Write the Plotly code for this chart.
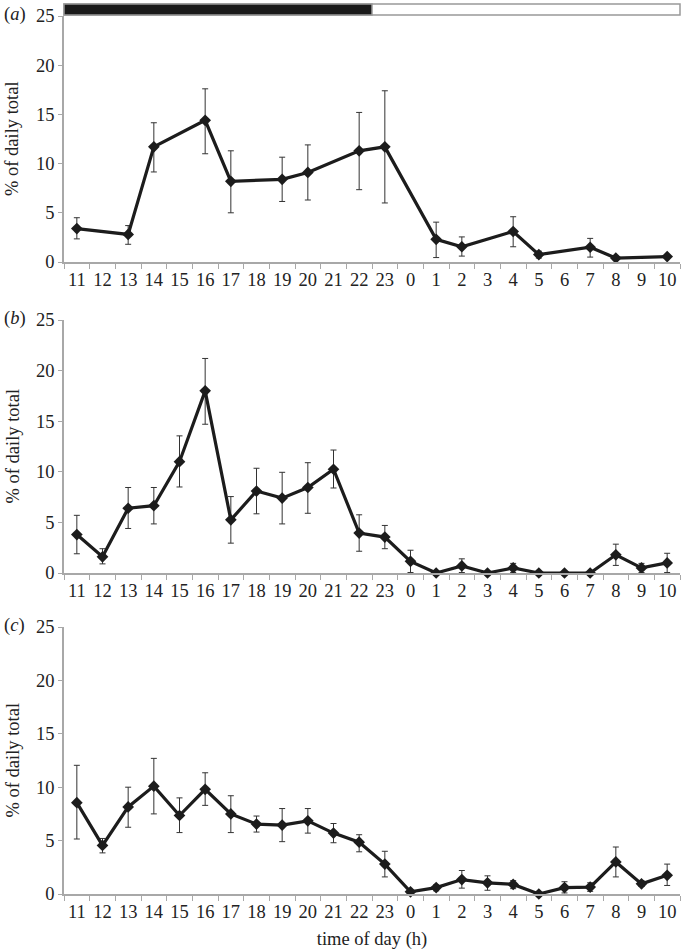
import plotly.graph_objects as go

hours = ["11", "12", "13", "14", "15", "16", "17", "18", "19", "20", "21", "22", "23",
         "0", "1", "2", "3", "4", "5", "6", "7", "8", "9", "10"]
dark_hours = ["11", "12", "13", "14", "15", "16", "17", "18", "19", "20", "21", "22"]

# panel (a) - None = no observation
a_val = [3.4, None, 2.8, 11.7, None, 14.4, 8.2, None, 8.4, 9.1, None, 11.3, 11.7,
         None, 2.3, 1.55, None, 3.1, 0.75, None, 1.5, 0.4, None, 0.55]
a_hi = [4.5, None, 3.7, 14.15, None, 17.6, 11.3, None, 10.65, 11.9, None, 15.2, 17.4,
        None, 4.05, 2.55, None, 4.6, 1.1, None, 2.4, 0.4, None, 0.7]
a_lo = [2.35, None, 1.8, 9.15, None, 11.0, 5.0, None, 6.15, 6.3, None, 7.35, 6.0,
        None, 0.45, 0.6, None, 1.55, 0.4, None, 0.5, 0.4, None, 0.4]

# panel (b)
b_val = [3.8, 1.6, 6.4, 6.65, 11.0, 18.0, 5.25, 8.1, 7.4, 8.45, 10.25, 3.95, 3.55,
         1.15, 0.0, 0.7, 0.0, 0.5, 0.0, 0.0, 0.0, 1.8, 0.5, 1.0]
b_hi = [5.7, 2.4, 8.45, 8.45, 13.55, 21.2, 7.55, 10.35, 9.95, 10.9, 12.15, 5.75, 4.7,
        2.25, 0.0, 1.4, 0.0, 0.95, 0.0, 0.0, 0.0, 2.85, 0.95, 1.95]
b_lo = [1.9, 0.9, 4.4, 4.85, 8.5, 14.7, 2.95, 5.85, 4.85, 5.9, 8.4, 2.15, 2.4,
        0.05, 0.0, 0.05, 0.0, 0.05, 0.0, 0.0, 0.0, 0.75, 0.05, 0.05]

# panel (c)
c_val = [8.55, 4.55, 8.15, 10.1, 7.35, 9.8, 7.5, 6.55, 6.45, 6.85, 5.7, 4.85, 2.8,
         0.2, 0.6, 1.35, 1.05, 0.9, 0.0, 0.6, 0.65, 3.0, 0.95, 1.75]
c_hi = [12.05, 5.2, 10.0, 12.7, 9.0, 11.35, 9.2, 7.3, 8.0, 8.0, 6.6, 5.55, 4.0,
        0.2, 0.85, 2.2, 1.7, 1.25, 0.0, 1.15, 1.05, 4.4, 1.25, 2.8]
c_lo = [5.15, 3.85, 6.25, 7.5, 5.75, 8.3, 5.75, 5.8, 4.9, 5.7, 4.8, 3.95, 1.6,
        0.2, 0.3, 0.55, 0.35, 0.5, 0.0, 0.1, 0.25, 1.6, 0.7, 0.8]

y_ticks = [0, 5, 10, 15, 20, 25]
panel_labels = ["a", "b", "c"]
y_title = "% of daily total"
x_title = "time of day (h)"

W, H = 681, 950
ML = 64
plot_w = W - ML - 1
# panel domains in pixels (top, bottom)
panel_px = [(16, 262), (320, 573), (627, 894)]

FONT = "'Liberation Serif', 'Times New Roman', Times, serif"
INK = "#1c1c1c"
AXC = "#a8a8a8"
TXT = "#222222"
FS = 18.5

fig = go.Figure()
series = [(a_val, a_hi, a_lo), (b_val, b_hi, b_lo), (c_val, c_hi, c_lo)]
for i, (vals, hi, lo) in enumerate(series):
    xs, ys, up, dn = [], [], [], []
    for h, v, u, l in zip(hours, vals, hi, lo):
        if v is None:
            continue
        xs.append(h)
        ys.append(v)
        up.append(max(u - v, 0))
        dn.append(max(v - l, 0))
    ax = "" if i == 0 else str(i + 1)
    fig.add_trace(go.Scatter(
        x=xs, y=ys, mode="lines+markers",
        xaxis="x" + ax, yaxis="y" + ax,
        line=dict(color=INK, width=3.2),
        marker=dict(symbol="diamond", size=9, color=INK),
        error_y=dict(type="data", symmetric=False, array=up, arrayminus=dn,
                     color="#333333", thickness=1, width=3),
        cliponaxis=False, showlegend=False,
    ))

layout = dict(
    width=W, height=H,
    margin=dict(l=ML, r=1, t=0, b=0, autoexpand=False),
    paper_bgcolor="white", plot_bgcolor="white",
    font=dict(family=FONT, size=FS, color=TXT),
)
for i, (top, bot) in enumerate(panel_px):
    ax = "" if i == 0 else str(i + 1)
    layout["xaxis" + ax] = dict(
        type="category", categoryorder="array", categoryarray=hours,
        range=[-0.5, len(hours) - 0.5],
        anchor="y" + ax, domain=[0, 1], automargin=False,
        showline=True, linecolor=AXC, linewidth=1.5,
        ticks="outside", tickson="boundaries", ticklen=5, tickcolor=AXC,
        tickangle=0,
        showgrid=False, zeroline=False,
        tickfont=dict(family=FONT, size=FS, color=TXT),
        title=dict(text=x_title if i == 2 else "", font=dict(family=FONT, size=FS, color=TXT), standoff=11),
    )
    layout["yaxis" + ax] = dict(
        range=[0, 25], tickvals=y_ticks,
        anchor="x" + ax, domain=[1 - bot / H, 1 - top / H], automargin=False,
        showline=True, linecolor=AXC, linewidth=1.5,
        ticks="outside", ticklen=4, tickcolor=AXC,
        showgrid=False, zeroline=False,
        tickfont=dict(family=FONT, size=FS, color=TXT),
    )
fig.update_layout(**layout)

# light/dark bar above panel (a)
split = len(dark_hours) / len(hours)
bar_y0, bar_y1 = 1 - 15 / H, 1 - 4 / H
fig.add_shape(type="rect", xref="x domain", yref="paper", x0=0, x1=1,
              y0=bar_y0, y1=bar_y1, fillcolor="white", line=dict(color="#999999", width=1.5))
fig.add_shape(type="rect", xref="x domain", yref="paper", x0=0, x1=split,
              y0=bar_y0, y1=bar_y1, fillcolor="#1a1a1a", line=dict(color="#999999", width=1.5))

for i, (top, bot) in enumerate(panel_px):
    fig.add_annotation(text="(<i>%s</i>)" % panel_labels[i], xref="paper", yref="paper",
                       x=(2 - ML) / plot_w, y=1 - (top - 2) / H, xanchor="left", yanchor="middle",
                       showarrow=False, font=dict(family=FONT, size=FS, color=TXT))
    # y-axis title
    fig.add_annotation(text=y_title, xref="paper", yref="paper", textangle=-90,
                       x=(12 - ML) / plot_w, y=1 - (top + bot) / 2 / H,
                       xanchor="center", yanchor="middle", showarrow=False,
                       font=dict(family=FONT, size=FS, color=TXT))

fig.write_html("out.html", config={"displayModeBar": False},
               post_script="document.body.style.margin='0';document.body.style.overflow='hidden';")
